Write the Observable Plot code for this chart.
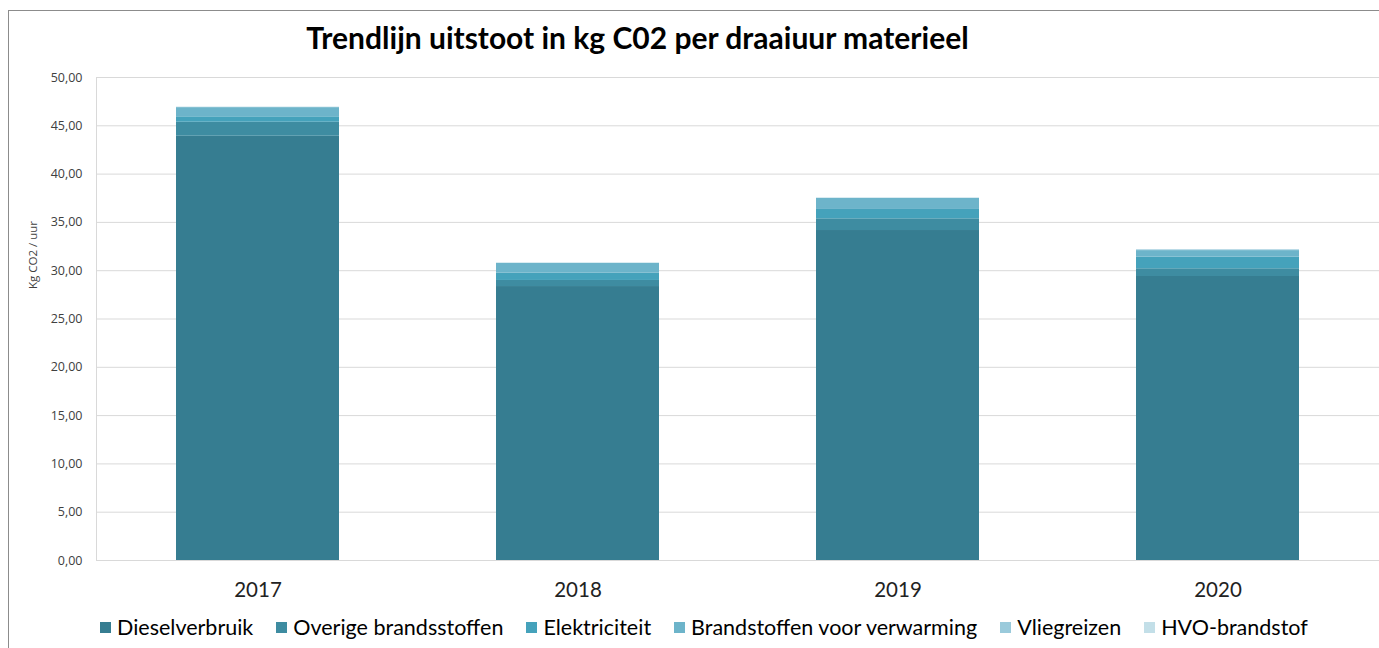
<!DOCTYPE html>
<html>
<head>
<meta charset="utf-8">
<script src="https://cdn.jsdelivr.net/npm/d3@7"></script>
<script src="https://cdn.jsdelivr.net/npm/@observablehq/plot@0.6"></script>
<style>
  html, body { margin: 0; padding: 0; background: #fff; }
  #wrap { position: relative; width: 1379px; height: 648px; overflow: hidden; font-family: Lato, sans-serif; }
  #frame { position: absolute; left: 8px; top: 10px; width: 1420px; height: 700px; border: 1px solid #8c8c8c; box-sizing: border-box; pointer-events: none; }
  #title { position: absolute; left: 0; top: 19px; width: 1275px; text-align: center; font-family: Lato, sans-serif; font-weight: 700; font-size: 30px; color: #000; }
  #chart { position: absolute; left: 0; top: 60px; }
  #legend { position: absolute; left: 100px; top: 614px; display: flex; align-items: center; font-family: Lato, sans-serif; font-size: 21.5px; color: #000; white-space: nowrap; }
  .item { display: flex; align-items: center; margin-right: 23px; }
  .sw { width: 11px; height: 11px; margin-right: 6px; }
</style>
</head>
<body>
<div id="wrap">
  <div id="title"></div>
  <div id="chart"></div>
  <div id="legend"></div>
  <div id="frame"></div>
</div>
<script>
const titleText = "Trendlijn uitstoot in kg C02 per draaiuur materieel";
const yLabel = "Kg CO2 / uur";
const years = ["2017", "2018", "2019", "2020"];
const series = ["Dieselverbruik", "Overige brandsstoffen", "Elektriciteit", "Brandstoffen voor verwarming", "Vliegreizen", "HVO-brandstof"];
const colors = ["#367d91", "#3e8ca1", "#45a2bb", "#6db4ca", "#9acadb", "#c3dfe8"];
const dieselverbruik = [43.92, 28.36, 34.16, 29.40];
const overige = [1.45, 0.63, 1.21, 0.80];
const elektriciteit = [0.56, 0.75, 0.97, 1.20];
const verwarming = [0.95, 1.02, 1.16, 0.68];
const vliegreizen = [0.04, 0.02, 0.00, 0.08];
const hvo = [0, 0, 0, 0];
const yTicks = [0, 5, 10, 15, 20, 25, 30, 35, 40, 45, 50];

const seriesValues = [dieselverbruik, overige, elektriciteit, verwarming, vliegreizen, hvo];
const data = [];
series.forEach((s, i) => {
  years.forEach((y, j) => data.push({ year: y, series: s, value: seriesValues[i][j] }));
});

document.getElementById("title").textContent = titleText;

const fmt = d => d.toFixed(2).replace(".", ",");

const plot = Plot.plot({
  width: 1379,
  height: 545,
  marginTop: 17,
  marginBottom: 45,
  marginLeft: 96,
  marginRight: 0,
  style: { fontFamily: "Lato, sans-serif", background: "transparent" },
  x: { domain: years, paddingInner: 0.49, paddingOuter: 0.245, label: null },
  y: { domain: [0, 50], ticks: yTicks, label: null },
  color: { domain: series, range: colors },
  marks: [
    Plot.gridY(yTicks, { stroke: "#d9d9d9", strokeOpacity: 1 }),
    Plot.frame({ anchor: "left", stroke: "#d9d9d9", strokeOpacity: 1 }),
    Plot.barY(data, { x: "year", y: "value", fill: "series", order: series }),
    Plot.ruleY([0], { stroke: "#d9d9d9", strokeOpacity: 1 }),
    Plot.axisY(yTicks, { tickSize: 0, tickPadding: 14, tickFormat: fmt, fontSize: 12.5, fontFamily: "Open Sans, sans-serif", fill: "#404040", label: null }),
    Plot.text([yLabel], { frameAnchor: "left", dx: -63, dy: -30, rotate: -90, fontSize: 11.5, fontFamily: "Open Sans, sans-serif", fill: "#404040", text: d => d }),
    Plot.axisX({ tickSize: 0, tickPadding: 22, fontSize: 20.5, fill: "#222", label: null })
  ]
});
document.getElementById("chart").appendChild(plot);

const legend = document.getElementById("legend");
series.forEach((s, i) => {
  const it = document.createElement("div");
  it.className = "item";
  const sw = document.createElement("div");
  sw.className = "sw";
  sw.style.background = colors[i];
  const t = document.createElement("span");
  t.textContent = s;
  it.appendChild(sw);
  it.appendChild(t);
  legend.appendChild(it);
});
</script>
</body>
</html>
